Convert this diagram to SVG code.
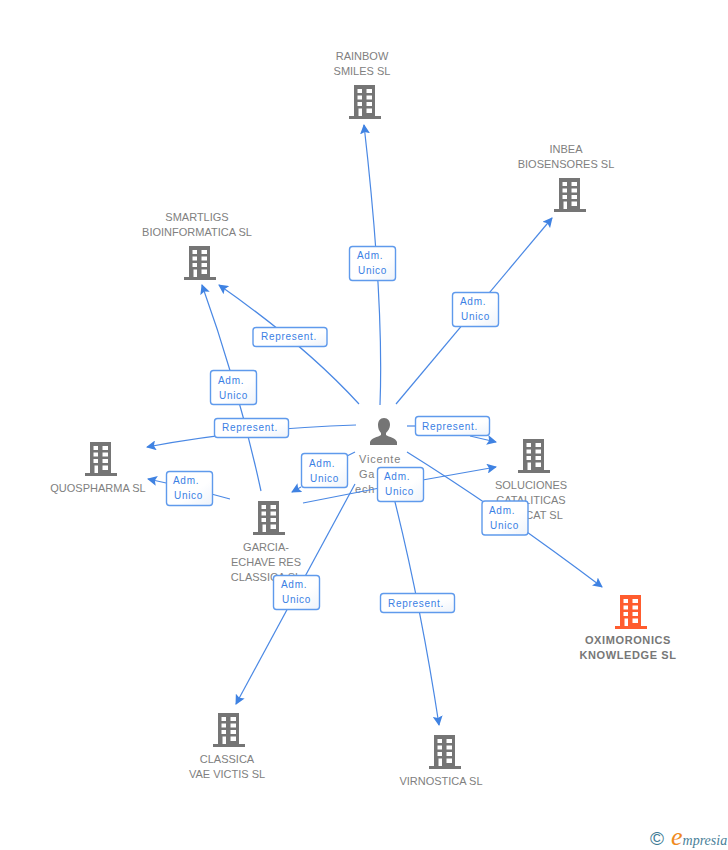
<svg xmlns="http://www.w3.org/2000/svg" width="728" height="850" viewBox="0 0 728 850">
<style>
.n{font:11px "Liberation Sans",Arial,sans-serif;fill:#808080;text-anchor:middle}
.b{font:bold 11px "Liberation Sans",Arial,sans-serif;fill:#777;text-anchor:middle;letter-spacing:.6px}
.s{font:11px "Liberation Sans",Arial,sans-serif;fill:#808080;letter-spacing:.8px}
.l{fill:none;stroke:#4a88e4;stroke-width:1.2;marker-end:url(#a)}
.t{fill:none;stroke:#4a88e4;stroke-width:1.2}
.r{fill:url(#g);stroke:#5f9aec;stroke-width:1.4}
.c{font:10px "Liberation Sans",Arial,sans-serif;fill:#3a80e4;letter-spacing:.7px}
</style>
<defs>
<linearGradient id="g" x1="0" y1="0" x2="1" y2="1"><stop offset="0" stop-color="#fff"/><stop offset=".6" stop-color="#fff"/><stop offset="1" stop-color="#eef3fb"/></linearGradient>
<marker id="a" viewBox="0 0 10 10" refX="9" refY="5" markerWidth="10" markerHeight="10" markerUnits="userSpaceOnUse" orient="auto"><path d="M0 0L10 5L0 10L2 5Z" fill="#3f82e2"/></marker>
<path id="w" fill-rule="evenodd" d="M5 0H26V31H32V34H0V31H5ZM8.500 4V8H13V4ZM17.500 4V8H23V4ZM8.500 10.500V14.500H13V10.500ZM17.500 10.500V14.500H23V10.500ZM8.500 17V21H13V17ZM17.500 17V21H23V17ZM9.500 23.500V31H13V23.500ZM17.500 23.500V28H23V23.500Z"/>
</defs>
<rect width="728" height="850" fill="#fff"/>
<g id="node-rainbow"><use href="#w" x="349" y="85" fill="#757575"/><text class="n" x="362" y="60">RAINBOW</text><text class="n" x="362" y="75">SMILES SL</text></g>
<g id="node-inbea"><use href="#w" x="554" y="178" fill="#757575"/><text class="n" x="566" y="153">INBEA</text><text class="n" x="566" y="168">BIOSENSORES SL</text></g>
<g id="node-smartligs"><use href="#w" x="184" y="246" fill="#757575"/><text class="n" x="197" y="221">SMARTLIGS</text><text class="n" x="197" y="236">BIOINFORMATICA SL</text></g>
<g id="node-quospharma"><use href="#w" x="85" y="442" fill="#757575"/><text class="n" x="98" y="492">QUOSPHARMA SL</text></g>
<g id="node-soluciones"><use href="#w" x="518" y="439" fill="#757575"/><text class="n" x="531" y="489">SOLUCIONES</text><text class="n" x="531" y="504">CATALITICAS</text><text class="n" x="544" y="519">CAT SL</text></g>
<g id="node-garcia"><use href="#w" x="253" y="501" fill="#757575"/><text class="n" x="266" y="551">GARCIA-</text><text class="n" x="266" y="566">ECHAVE RES</text><text class="n" x="266" y="581">CLASSICA SL</text></g>
<g id="node-oximoronics"><use href="#w" x="615" y="595" fill="#ff5c2e"/><text class="b" x="628" y="644">OXIMORONICS</text><text class="b" x="628" y="659">KNOWLEDGE SL</text></g>
<g id="node-classica"><use href="#w" x="213" y="713" fill="#757575"/><text class="n" x="227" y="763">CLASSICA</text><text class="n" x="227" y="778">VAE VICTIS SL</text></g>
<g id="node-virnostica"><use href="#w" x="429" y="735" fill="#757575"/><text class="n" x="441" y="785">VIRNOSTICA SL</text></g>
<g id="node-person"><path fill="#757575" d="M384 418c-4 0-6 3-6 7 0 3 1 6 3 8v2c-3 2-10 3-11 7v3h27v-3c-1-4-8-5-11-7v-2c2-2 4-5 4-8 0-4-2-7-6-7Z"/><text class="s" x="359" y="463">Vicente</text><text class="s" x="359" y="478">Ga</text><text class="s" x="355" y="493">ech</text></g>
<g id="connectors">
<path class="l" d="M380 405Q384 300 364 125"/>
<path class="l" d="M396 404L552 218"/>
<path class="l" d="M359 404Q305 345 219 285"/>
<path class="l" d="M261 491Q238 385 202 285"/>
<path class="l" d="M356 425Q250 428 147 447"/>
<path class="l" d="M230 499L189 488L148 479"/>
<path class="t" d="M355 452L347 456"/>
<path class="l" d="M301 487L292 492"/>
<path class="l" d="M303 503L400 484L496 467"/>
<path class="t" d="M407 426L415 426"/>
<path class="l" d="M470 436L496 442"/>
<path class="l" d="M407 452Q500 510 602 587"/>
<path class="l" d="M355 484Q300 585 236 704"/>
<path class="l" d="M392 490Q420 600 439 725"/>
<g id="labels">
<rect class="r" x="349.500" y="246.500" width="46" height="34" rx="3"/><text class="c" x="357" y="259">Adm.</text><text class="c" x="358" y="274">Unico</text>
<rect class="r" x="452.500" y="292.500" width="46" height="34" rx="3"/><text class="c" x="460" y="305">Adm.</text><text class="c" x="461" y="320">Unico</text>
<rect class="r" x="253" y="327.500" width="74" height="19" rx="3"/><text class="c" x="261" y="340">Represent.</text>
<rect class="r" x="210.500" y="370.500" width="46" height="34" rx="3"/><text class="c" x="218" y="384">Adm.</text><text class="c" x="219" y="399">Unico</text>
<rect class="r" x="214.500" y="418.500" width="74" height="19" rx="3"/><text class="c" x="222" y="431">Represent.</text>
<rect class="r" x="166.500" y="471.500" width="46" height="34" rx="3"/><text class="c" x="173" y="484">Adm.</text><text class="c" x="174" y="499">Unico</text>
<rect class="r" x="301.500" y="453.500" width="46" height="34" rx="3"/><text class="c" x="309" y="467">Adm.</text><text class="c" x="310" y="482">Unico</text>
<rect class="r" x="377.500" y="467.500" width="46" height="34" rx="3"/><text class="c" x="384" y="480">Adm.</text><text class="c" x="385" y="495">Unico</text>
<rect class="r" x="415.500" y="416.500" width="74" height="19" rx="3"/><text class="c" x="422" y="430">Represent.</text>
<rect class="r" x="482" y="501" width="46" height="34" rx="3"/><text class="c" x="489" y="514">Adm.</text><text class="c" x="490" y="529">Unico</text>
<rect class="r" x="273.500" y="575.500" width="46" height="34" rx="3"/><text class="c" x="281" y="588">Adm.</text><text class="c" x="282" y="603">Unico</text>
<rect class="r" x="380.500" y="593.500" width="74" height="19" rx="3"/><text class="c" x="388" y="607">Represent.</text>
</g>
</g>
<g id="logo"><text x="650" y="845" font-family="Liberation Sans,sans-serif" font-size="19" fill="#3c7a94">©</text><text x="671" y="845" font-family="Liberation Serif,serif" font-style="italic" font-size="14" fill="#4a7f99"><tspan font-size="26" fill="#f08a1e">e</tspan>mpresia</text></g>
</svg>
